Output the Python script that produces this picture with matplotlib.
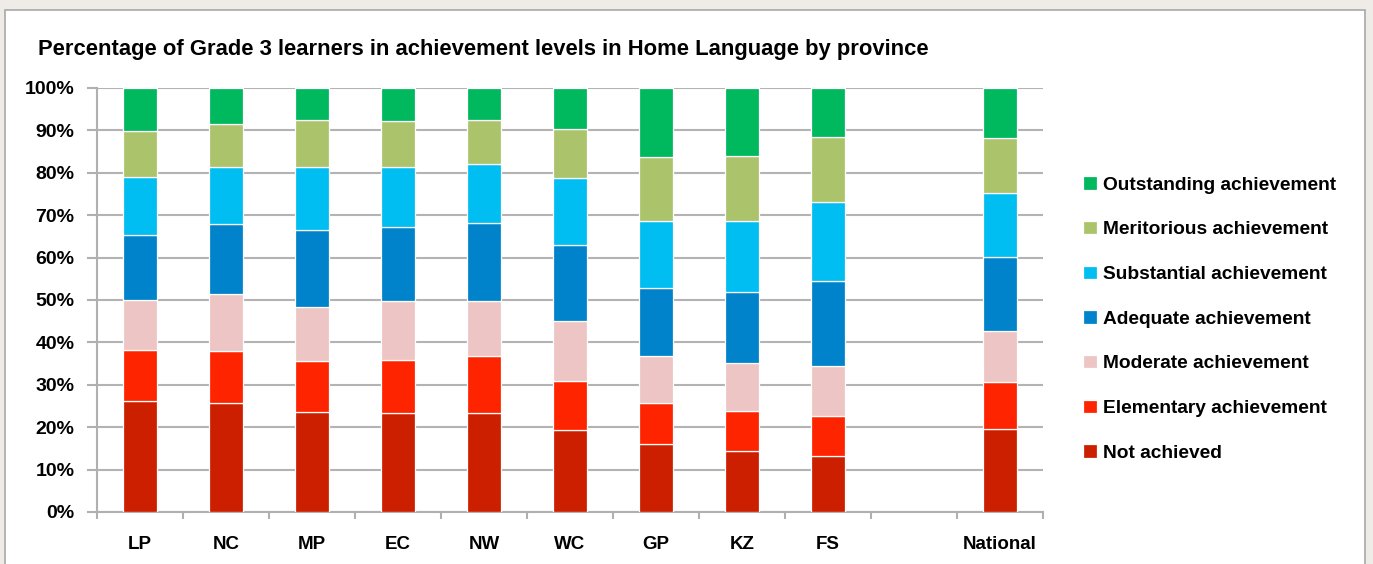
import matplotlib.pyplot as plt
import numpy as np
from matplotlib.patches import Rectangle

plt.rcParams['font.family'] = ['Liberation Sans', 'DejaVu Sans']

# data (percent of learners)
provinces = ['LP', 'NC', 'MP', 'EC', 'NW', 'WC', 'GP', 'KZ', 'FS', 'National']
not_achieved = [26.1, 25.6, 23.6, 23.3, 23.3, 19.3, 16.0, 14.5, 13.3, 19.6]
elementary = [12.2, 12.4, 11.9, 12.5, 13.5, 11.5, 9.6, 9.4, 9.4, 11.0]
moderate = [11.8, 13.3, 12.9, 14.0, 13.0, 14.2, 11.2, 11.3, 11.7, 12.2]
adequate = [15.3, 16.7, 18.0, 17.3, 18.4, 18.0, 16.0, 16.8, 20.1, 17.3]
substantial = [13.5, 13.4, 15.0, 14.3, 13.9, 15.7, 15.8, 16.6, 18.5, 15.1]
meritorious = [11.0, 10.2, 11.1, 10.7, 10.4, 11.6, 15.1, 15.4, 15.4, 12.9]
outstanding = [10.1, 8.4, 7.5, 7.9, 7.5, 9.7, 16.3, 16.0, 11.6, 11.9]

levels = ['Not achieved', 'Elementary achievement', 'Moderate achievement',
          'Adequate achievement', 'Substantial achievement',
          'Meritorious achievement', 'Outstanding achievement']
series = [not_achieved, elementary, moderate, adequate, substantial, meritorious, outstanding]
colors = ['#cc1f00', '#ff2400', '#ecc5c4', '#0083cb', '#00bdf2', '#abc46c', '#00b85e']

fig = plt.figure(figsize=(13.73, 5.64), dpi=100)
fig.patch.set_facecolor('#efece7')
# white panel behind the chart
fig.patches.append(Rectangle((5 / 1373, -0.01), 1360 / 1373, 554 / 564 + 0.01, transform=fig.transFigure,
                             facecolor='white', edgecolor='#a8a8a8', linewidth=1.2, zorder=-5))

ax = fig.add_axes([97 / 1373, 1 - 512 / 564, 946 / 1373, 424 / 564])
ax.set_facecolor('none')

# leave an empty slot before National
x = np.arange(len(provinces), dtype=float)
x[-1] += 1

bottom = np.zeros(len(provinces))
handles = []
for vals, col, lab in zip(series, colors, levels):
    b = ax.bar(x, vals, 0.39, bottom=bottom, color=col, edgecolor='white', linewidth=0.9,
               label=lab, zorder=3)
    handles.append(b)
    bottom += np.array(vals)

ax.set_xlim(-0.5, 10.5)
ax.set_ylim(0, 100)
ax.set_yticks(np.arange(0, 101, 10))
ax.set_yticklabels([f'{v}%' for v in range(0, 101, 10)], fontsize=14, fontweight='bold')
ax.set_xticks(x)
ax.set_xticklabels(provinces, fontsize=13.5, fontweight='bold')
ax.set_xticks(np.arange(-0.5, 11, 1), minor=True)
ax.tick_params(axis='x', which='major', length=0, pad=17)
ax.tick_params(axis='x', which='minor', length=5, width=1.5, color='#b0b0b0', direction='out')
ax.tick_params(axis='y', length=7.2, width=1.5, color='#b0b0b0', pad=9)

ax.grid(axis='y', color='#b3b3b3', linewidth=1.5, zorder=0)
for s in ['top', 'right']:
    ax.spines[s].set_visible(False)
for s in ['left', 'bottom']:
    ax.spines[s].set_color('#b0b0b0')
    ax.spines[s].set_linewidth(1.5)

fig.text(38 / 1373, 1 - 49 / 564, 'Percentage of Grade 3 learners in achievement levels in Home Language by province',
         fontsize=15.8, fontweight='bold', va='center', ha='left')

leg = fig.legend(handles[::-1], levels[::-1], loc='center left',
                 bbox_to_anchor=(1066 / 1373, 1 - 319 / 564), frameon=False,
                 prop={'size': 13.8, 'weight': 'bold'}, handlelength=0.7, handleheight=0.7,
                 handletextpad=0.35, labelspacing=1.42)

fig.savefig('out.png', dpi=100, facecolor=fig.get_facecolor())
